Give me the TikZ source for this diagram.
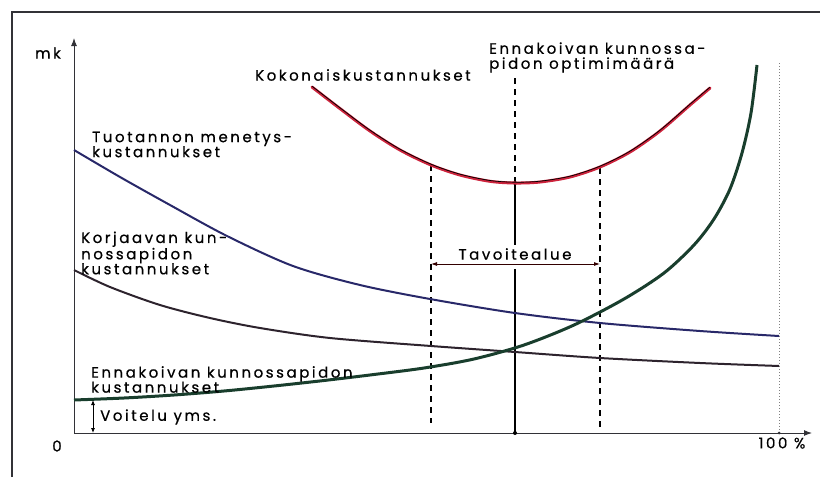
\documentclass[tikz,border=0pt]{standalone}
\usepackage{fontspec}
\setmainfont[LetterSpace=17,FakeBold=0.6]{Poppins}
\usetikzlibrary{arrows.meta}

\definecolor{kokred}{RGB}{205,35,60}
\definecolor{tuoblue}{RGB}{40,40,105}
\definecolor{ennagreen}{RGB}{25,62,45}
\definecolor{korblack}{RGB}{45,35,45}
\definecolor{axisgray}{RGB}{50,50,55}

\newcommand\kokcurve{plot[smooth] coordinates {(312,87) (340,108.6) (370,131) (400,150) (431,165) (460,175) (490,181.3) (515,183) (540,182) (570,177) (600,167) (630,152) (660,131) (690,105) (710,88)}}

\begin{document}
\begin{tikzpicture}[x=1pt,y=-1pt,font=\fontsize{15}{15}\selectfont,
		lbl/.style={anchor=west,inner sep=0pt,align=left},
		bound/.style={black,line width=1.2pt,dash pattern=on 6pt off 5pt}]
		\useasboundingbox (0,0) rectangle (820,477);
		\draw[axisgray,line width=1.2pt] (12,477)--(12,12)--(820,12);
		
		% axes
		\coordinate (O) at (74,433);
		\coordinate (ytop) at (74,38);
		\coordinate (xend) at (812,433);
		\draw[axisgray,line width=1pt,-{Latex[length=8pt,width=6pt]}] (O)--(ytop);
		\draw[axisgray,line width=1pt,-{Latex[length=8pt,width=6pt]}] (O)--(xend);
		\node (mk) at (48,53) {mk};
		\node (zero) at (57,446) {0};
		\node (full) at (782,443) {100 \%};
		\coordinate (fulltop) at (779,63);
		\coordinate (fullfoot) at (779,433);
		\draw[gray,line width=1pt,dotted] (fulltop)--(fullfoot);
		\fill[axisgray] (fullfoot) circle (1.5pt);
		
		% target region
		\coordinate (tavL) at (431,264);
		\coordinate (tavR) at (600,264);
		\draw[bound] (431,165)--(431,423);
		\draw[bound] (600,168)--(600,427);
		\draw[black!80!red,line width=0.8pt,{Latex[length=6pt,width=4pt]}-{Latex[length=6pt,width=4pt]}] (tavL)--(tavR);
		\node (tav) at (515,254) {Tavoitealue};
		
		% optimum
		\coordinate (opt) at (515,183);
		\coordinate (optfoot) at (515,433);
		\draw[black,line width=1.2pt,dash pattern=on 6pt off 5pt] (515,78)--(opt);
		\draw[black,line width=1.2pt] (opt)--(tav.north);
		\draw[black,line width=1.2pt] (515,269)--(optfoot);
		\fill (optfoot) circle (2pt);
		\fill (opt) circle (2pt);
		
		% cost curves
		\draw[tuoblue,line width=2pt] plot[smooth] coordinates {(74,150) (120,177) (170,205) (227,236) (293,266) (360,285) (430,299) (515,313) (600,323) (700,331) (779,336)};
		\draw[korblack,line width=2pt] plot[smooth] coordinates {(74,270) (110,287) (160,305) (210,318) (260,328) (330,338) (431,346) (515,352) (600,358) (700,363) (779,366)};
		\draw[ennagreen,line width=3pt] plot[smooth] coordinates {(74,400) (124,398) (174,395) (224,391) (274,386) (324,380.5) (374,374.5) (424,368) (474,359) (524,345) (574,325) (624,299) (664,273) (694,245) (714,219) (730,189) (742,153) (751,113) (757,65)};
		\draw[kokred,line width=3pt,line cap=round] \kokcurve;
		\draw[black,line width=0.7pt,yshift=0.8pt] \kokcurve;
		
		% lubrication
		\coordinate (voiTop) at (93,400);
		\coordinate (voiFoot) at (93,433);
		\draw[black,line width=0.8pt,{Latex[length=5pt,width=4pt]}-{Latex[length=5pt,width=4pt]}] (voiTop)--(voiFoot);
		
		% labels
		\node[lbl] (kok) at (255,75) {Kokonaiskustannukset};
		\node[lbl] (optlbl) at (489,57.5) {Ennakoivan kunnossa-\\pidon optimimäärä};
		\node[lbl] (tuo) at (92,144.5) {Tuotannon menetys-\\kustannukset};
		\node[lbl] (kor) at (81,253) {Korjaavan kun-\\nossapidon\\kustannukset};
		\node[lbl] (enna) at (91,379.5) {Ennakoivan kunnossapidon\\kustannukset};
		\node[lbl] (voi) at (100,417) {Voitelu yms.};
	\end{tikzpicture}
\end{document}
